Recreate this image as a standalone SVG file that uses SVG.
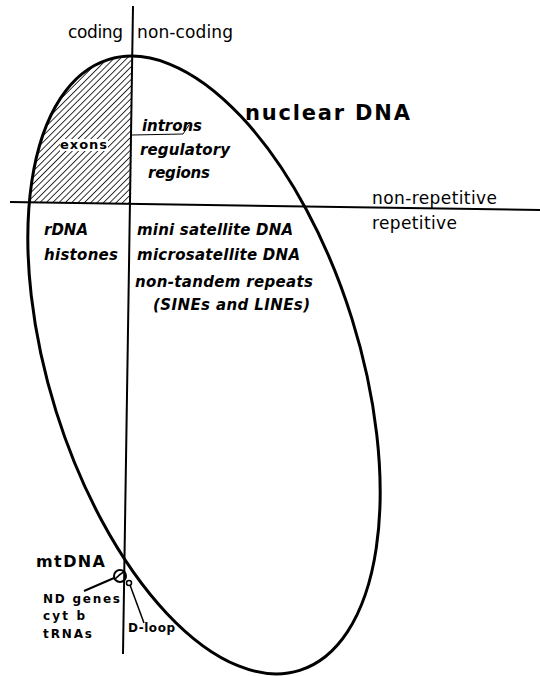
<svg xmlns="http://www.w3.org/2000/svg" width="540" height="676" viewBox="0 0 540 676">
<defs>
<style>
.reg{font-family:"DejaVu Sans","Liberation Sans",sans-serif;font-size:17px;fill:#000}
.it{font-family:"DejaVu Sans","Liberation Sans",sans-serif;font-size:15px;font-style:oblique;font-weight:bold;fill:#000}
.bd{font-family:"DejaVu Sans","Liberation Sans",sans-serif;font-weight:bold;fill:#000}
.ln{stroke:#000;fill:none}
</style>
<pattern id="hatch" patternUnits="userSpaceOnUse" width="4.5" height="4.5" patternTransform="rotate(45)">
<line x1="0" y1="0" x2="0" y2="4.5" stroke="#000" stroke-width="1.6"/>
</pattern>
<clipPath id="ellClip">
<ellipse cx="0" cy="0" rx="320" ry="155" transform="translate(204 365) rotate(72.6)"/>
</clipPath>
</defs>
<rect width="540" height="676" fill="#fff"/>

<g id="exons">
<polygon points="0,0 133,0 131,203 0,203" fill="url(#hatch)" clip-path="url(#ellClip)"/>
<rect x="60" y="139" width="48" height="12" fill="#fff"/>
<text class="bd" x="60" y="149" font-size="13" textLength="47">exons</text>
</g>

<g id="nuclear-dna">
<ellipse class="ln" cx="0" cy="0" rx="320" ry="155" stroke-width="3" transform="translate(204 365) rotate(72.6)"/>
<text class="bd" x="245" y="120" font-size="21" textLength="165">nuclear  DNA</text>
</g>

<g id="axes">
<line class="ln" x1="133" y1="6" x2="123" y2="654" stroke-width="2"/>
<line class="ln" x1="10" y1="202" x2="540" y2="210" stroke-width="2"/>
</g>

<g id="labels-top">
<text class="reg" x="68" y="38" textLength="55">coding</text>
<text class="reg" x="137" y="38" textLength="96">non-coding</text>
<text class="reg" x="372" y="204" textLength="125">non-repetitive</text>
<text class="reg" x="372" y="229" textLength="85">repetitive</text>
</g>

<g id="noncoding-nonrep">
<text class="it" x="142" y="131" textLength="60" font-weight="normal" font-size="16">introns</text>
<text class="it" x="140" y="155" textLength="90" font-weight="normal" font-size="16">regulatory</text>
<text class="it" x="148" y="178" textLength="62" font-weight="normal" font-size="16">regions</text>
</g>

<g id="coding-rep">
<text class="it" x="44" y="235">rDNA</text>
<text class="it" x="44" y="260" textLength="74">histones</text>
</g>

<g id="noncoding-rep">
<text class="it" x="137" y="235" textLength="156">mini satellite DNA</text>
<text class="it" x="137" y="260" textLength="163">microsatellite DNA</text>
<text class="it" x="135" y="287" textLength="178">non-tandem repeats</text>
<text class="it" x="153" y="310" textLength="157">(SINEs and LINEs)</text>
</g>

<g id="mtdna">
<text class="bd" x="36" y="567" font-size="16" textLength="69">mtDNA</text>
<circle class="ln" cx="120" cy="576" r="6" stroke-width="2"/>
<path class="ln" d="M115,579 Q120,574 125,571" stroke-width="1.5"/>
<circle class="ln" cx="129" cy="583" r="2.5" stroke-width="1.5"/>
<text class="bd" x="43" y="603" font-size="12" textLength="77">ND genes</text>
<text class="bd" x="43" y="620" font-size="12" textLength="42">cyt b</text>
<text class="bd" x="43" y="638" font-size="12" textLength="49">tRNAs</text>
<text class="bd" x="128" y="632" font-size="12" textLength="47">D-loop</text>
</g>

<g id="connectors">
<polyline class="ln" points="132,135 183,134 189,125" stroke-width="1"/>
<line class="ln" x1="84" y1="591" x2="114" y2="578" stroke-width="2"/>
<line class="ln" x1="130" y1="585" x2="144" y2="623" stroke-width="1.5"/>
</g>
</svg>
